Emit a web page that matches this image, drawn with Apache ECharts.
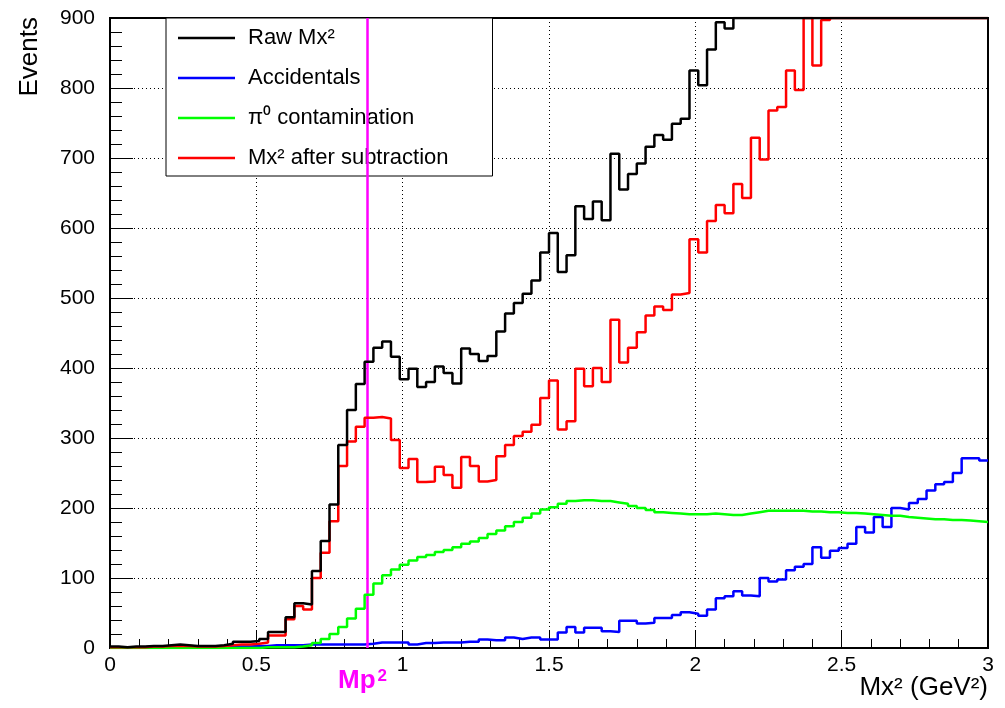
<!DOCTYPE html>
<html><head><meta charset="utf-8">
<script src="https://cdn.jsdelivr.net/npm/echarts@6/dist/echarts.min.js"></script>
<style>html,body{margin:0;padding:0;background:#fff}#c{width:1005px;height:708px}</style>
</head><body><div id="c"></div>
<script>
// Histogram binning: 100 bins of 0.03 GeV^2 from 0 to 3
const binWidth = 0.03;
const xMin = 0, xMax = 3, xStep = 0.5;
const yMin = 0, yMax = 900, yStep = 100;
const mp2 = 0.88; // proton mass squared marker

const rawMx2 = [
  2,1,2,2,3,3,4,5,4,3,
  3,3,4,6,9,9,10,13,23,23,
  44,64,62,110,153,205,290,340,377,409,
  429,438,416,384,399,373,380,402,393,378,
  428,420,410,417,452,478,493,506,525,565,
  593,537,561,631,613,638,611,706,655,677,
  692,716,733,726,749,756,825,804,855,894,
  885,900,900,900,900,900,900,900,900,900,
  900,900,900,900,900,900,900,900,900,900,
  900,900,900,900,900,900,900,900,900,900
];
const accidentals = [
  1,1,1,1,1,1,1,1,1,2,
  2,2,2,2,2,2,3,3,4,4,
  4,4,5,5,5,5,5,5,5,6,
  8,8,8,8,5,7,7,8,8,8,
  9,9,12,11,11,15,13,15,15,12,
  12,22,30,22,29,29,24,23,39,39,
  35,36,43,43,47,51,49,46,55,71,
  74,81,75,74,100,95,98,111,116,120,
  144,129,139,143,149,173,165,187,173,200,
  198,207,213,225,234,237,250,271,271,268
];
const pi0Contamination = [
  0,0,0,0,0,0,0,0,0,0,
  0,0,0,0,0,0,0,1,1,1,
  1,2,4,7,13,20,30,42,56,76,
  92,104,112,119,125,130,133,137,140,144,
  149,152,157,163,168,174,180,186,192,198,
  201,206,210,211,211,210,210,208,206,203,
  200,197,194,193,192,191,191,191,192,191,
  190,190,192,194,196,196,196,196,196,195,
  195,194,194,193,193,192,191,190,189,189,
  187,186,185,184,184,183,183,182,181,180
];
const afterSubtraction = [
  1,1,1,1,2,2,3,3,3,2,
  2,2,3,4,5,5,6,8,18,18,
  41,60,55,100,136,181,260,295,316,329,
  330,328,297,257,270,237,238,259,247,229,
  273,260,238,240,274,290,303,309,319,357,
  382,312,324,399,374,400,380,469,408,429,
  451,475,488,483,505,507,584,565,610,633,
  621,663,643,729,698,768,773,825,797,900,
  832,897,900,900,900,900,900,900,900,900,
  900,900,900,900,900,900,900,900,900,900
];

const seriesNames = ['Raw Mx²', 'Accidentals', 'π⁰ contamination', 'Mx² after subtraction'];
const seriesColors = ['#000000', '#0000ff', '#00ff00', '#ff0000'];
const seriesValues = [rawMx2, accidentals, pi0Contamination, afterSubtraction];
const seriesZ = [8, 4, 5, 6];

function toSteps(vals) {
  const pts = vals.map((v, i) => [+(i * binWidth).toFixed(4), v]);
  pts.push([+(vals.length * binWidth).toFixed(4), vals[vals.length - 1]]);
  return pts;
}

const FONT = 'Liberation Sans, Arial, Helvetica, sans-serif';
const chart = echarts.init(document.getElementById('c'), null, {renderer: 'canvas'});

const series = seriesValues.map((vals, k) => ({
  name: seriesNames[k],
  type: 'line',
  step: 'end',
  symbol: 'none',
  data: toSteps(vals),
  lineStyle: {color: seriesColors[k], width: 2.5},
  itemStyle: {color: seriesColors[k]},
  z: seriesZ[k],
  animation: false
}));

series[0].markLine = {
  silent: true,
  symbol: 'none',
  animation: false,
  lineStyle: {color: '#ff00ff', width: 2.5, type: 'solid'},
  label: {
    show: true,
    position: 'start',
    distance: 20,
    formatter: 'Mp{s|2}',
    color: '#ff00ff',
    fontFamily: FONT,
    fontWeight: 'bold',
    fontSize: 26,
    rich: {s: {fontSize: 17, fontWeight: 'bold', color: '#ff00ff', fontFamily: FONT, verticalAlign: 'top', padding: [0, 10, 8, 2]}}
  },
  data: [{xAxis: mp2}]
};

chart.setOption({
  animation: false,
  backgroundColor: '#ffffff',
  textStyle: {fontFamily: FONT},
  grid: {left: 110, right: 17, top: 18, bottom: 60, containLabel: false, outerBoundsMode: 'none',
         show: true, borderColor: '#000', borderWidth: 2, backgroundColor: 'transparent'},
  legend: {
    orient: 'vertical',
    left: 166, top: 18,
    data: seriesNames,
    icon: 'rect',
    itemWidth: 57, itemHeight: 2.5, itemGap: 18,
    padding: [9, 44, 7, 12],
    backgroundColor: '#ffffff',
    borderColor: '#000', borderWidth: 1,
    textStyle: {fontSize: 22, color: '#000', fontFamily: FONT, padding: [0, 0, 0, 8]},
    selectedMode: false
  },
  xAxis: {
    type: 'value', min: xMin, max: xMax, interval: xStep,
    axisLine: {show: true, onZero: false, lineStyle: {color: '#000', width: 2}},
    axisTick: {show: true, inside: true, length: 18, lineStyle: {color: '#000', width: 1}},
    minorTick: {show: true, splitNumber: 5, length: 9, lineStyle: {color: '#000', width: 1}},
    axisLabel: {fontSize: 21, color: '#000', margin: 7, fontFamily: FONT},
    splitLine: {show: true, lineStyle: {color: '#000', width: 1, type: [1, 3]}}
  },
  yAxis: {
    type: 'value', min: yMin, max: yMax, interval: yStep,
    axisLine: {show: true, onZero: false, lineStyle: {color: '#000', width: 2}},
    axisTick: {show: true, inside: true, length: 23, lineStyle: {color: '#000', width: 1}},
    minorTick: {show: true, splitNumber: 5, length: 12, lineStyle: {color: '#000', width: 1}},
    axisLabel: {fontSize: 21, color: '#000', margin: 15, fontFamily: FONT},
    splitLine: {show: true, lineStyle: {color: '#000', width: 1, type: [1, 3]}}
  },
  graphic: [{
    type: 'text', x: 30, y: 17, rotation: Math.PI / 2,
    style: {text: 'Events', font: '26px ' + FONT, fill: '#000', align: 'right', verticalAlign: 'middle'}
  }, {
    type: 'text', x: 988, y: 688,
    style: {text: 'Mx² (GeV²)', font: '26px ' + FONT, fill: '#000', align: 'right', verticalAlign: 'middle'}
  }],
  series: series
});
</script></body></html>
